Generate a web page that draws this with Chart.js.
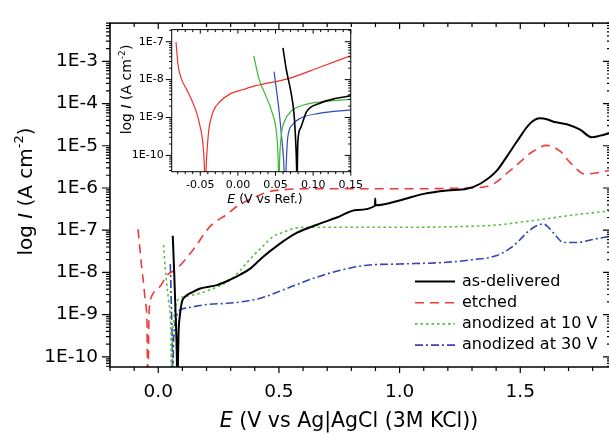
<!DOCTYPE html>
<html>
<head>
<meta charset="utf-8">
<script src="https://cdn.jsdelivr.net/npm/chart.js@4.4.0/dist/chart.umd.min.js"></script>
<style>
html, body { margin: 0; padding: 0; overflow: hidden; background: #fff; }
#wrap { position: relative; width: 609px; height: 434px; overflow: hidden; }
#main { position: absolute; left: 0; top: 0; }
#inset { position: absolute; left: 100px; top: 15px; }
</style>
</head>
<body>
<div id="wrap">
  <canvas id="main" width="611" height="434"></canvas>
  <canvas id="inset" width="270" height="195"></canvas>
</div>
<script>
// ---- main plot data: E (V vs Ag|AgCl) and log10 I (A cm-2) ----
const seriesNames = ['as-delivered', 'etched', 'anodized at 10 V', 'anodized at 30 V'];

const asDeliveredE = [0.060, 0.066, 0.072, 0.077, 0.079, 0.081, 0.084, 0.090, 0.098, 0.112, 0.140, 0.174, 0.243, 0.298, 0.340, 0.381, 0.430, 0.492, 0.575, 0.658, 0.740, 0.823, 0.898, 0.899, 0.900, 1.003, 1.100, 1.196, 1.279, 1.334, 1.403, 1.445, 1.486, 1.541, 1.582, 1.610, 1.638, 1.693, 1.748, 1.797, 1.831, 1.876];
const asDeliveredLogI = [-7.13, -8.00, -9.00, -10.00, -11.0, -10.3, -9.45, -9.00, -8.70, -8.57, -8.47, -8.38, -8.30, -8.17, -8.05, -7.91, -7.65, -7.37, -7.06, -6.87, -6.70, -6.52, -6.42, -6.25, -6.41, -6.29, -6.14, -6.06, -6.02, -5.90, -5.59, -5.25, -4.90, -4.47, -4.35, -4.37, -4.43, -4.49, -4.62, -4.80, -4.76, -4.69];

const etchedE = [-0.084, -0.075, -0.068, -0.060, -0.054, -0.047, -0.043, -0.039, -0.033, -0.026, -0.015, 0.008, 0.036, 0.077, 0.146, 0.215, 0.285, 0.330, 0.400, 0.450, 0.520, 0.600, 0.800, 1.000, 1.280, 1.375, 1.458, 1.554, 1.610, 1.665, 1.707, 1.769, 1.876];
const etchedLogI = [-6.98, -7.50, -7.91, -8.30, -8.68, -9.15, -11.0, -9.15, -8.68, -8.55, -8.45, -8.33, -8.07, -7.91, -7.45, -6.91, -6.62, -6.42, -6.22, -6.10, -6.04, -6.02, -6.02, -6.02, -6.00, -5.94, -5.59, -5.13, -4.99, -5.13, -5.40, -5.67, -5.58];

const anod10E = [0.022, 0.029, 0.043, 0.050, 0.053, 0.054, 0.058, 0.063, 0.070, 0.091, 0.133, 0.180, 0.229, 0.298, 0.340, 0.381, 0.430, 0.478, 0.520, 0.547, 0.616, 0.800, 1.000, 1.279, 1.417, 1.500, 1.582, 1.720, 1.876];
const anod10LogI = [-7.35, -7.91, -8.68, -9.07, -9.80, -11.0, -9.60, -9.20, -8.84, -8.61, -8.55, -8.48, -8.38, -8.18, -7.95, -7.68, -7.40, -7.14, -7.05, -6.98, -6.93, -6.93, -6.93, -6.91, -6.87, -6.81, -6.75, -6.64, -6.54];

const anod30E = [0.050, 0.053, 0.056, 0.059, 0.0605, 0.062, 0.066, 0.075, 0.084, 0.119, 0.202, 0.312, 0.423, 0.533, 0.643, 0.754, 0.864, 1.000, 1.196, 1.300, 1.403, 1.460, 1.500, 1.527, 1.560, 1.596, 1.620, 1.650, 1.679, 1.734, 1.800, 1.876];
const anod30LogI = [-7.80, -8.50, -9.20, -10.0, -11.0, -10.0, -9.40, -9.10, -8.92, -8.84, -8.76, -8.72, -8.61, -8.38, -8.14, -7.95, -7.83, -7.80, -7.76, -7.70, -7.60, -7.42, -7.22, -7.06, -6.92, -6.85, -6.95, -7.15, -7.29, -7.29, -7.22, -7.14];

// ---- inset data: E (V vs Ref.) ----
const insetAsDeliveredE = [0.0599, 0.0642, 0.0705, 0.0747, 0.0768, 0.0780, 0.0785, 0.0790, 0.0797, 0.0832, 0.0915, 0.108, 0.129, 0.150];
const insetAsDeliveredLogI = [-7.16, -7.72, -8.33, -8.93, -9.63, -10.3, -11.0, -10.3, -9.63, -9.28, -8.84, -8.63, -8.50, -8.43];
const insetEtchedE = [-0.0823, -0.0794, -0.0751, -0.0687, -0.0603, -0.054, -0.0498, -0.0468, -0.0447, -0.0434, -0.0420, -0.0401, -0.0384, -0.0329, -0.0244, -0.0097, 0.0072, 0.024, 0.066, 0.108, 0.150];
const insetEtchedLogI = [-7.01, -7.63, -7.98, -8.24, -8.59, -8.93, -9.28, -9.63, -10.2, -11.0, -10.2, -9.63, -9.28, -8.84, -8.59, -8.37, -8.26, -8.16, -7.98, -7.68, -7.37];
const insetAnod10E = [0.0211, 0.028, 0.0367, 0.045, 0.0515, 0.0535, 0.0545, 0.0555, 0.0578, 0.062, 0.0705, 0.0873, 0.108, 0.150];
const insetAnod10LogI = [-7.37, -7.98, -8.41, -8.84, -9.45, -10.1, -11.0, -10.1, -9.45, -9.10, -8.84, -8.67, -8.59, -8.52];
const insetAnod30E = [0.0481, 0.0515, 0.0548, 0.0578, 0.0608, 0.0627, 0.0645, 0.0662, 0.0725, 0.0832, 0.108, 0.150];
const insetAnod30LogI = [-7.79, -8.31, -8.84, -9.45, -10.14, -11.0, -10.1, -9.54, -9.19, -9.02, -8.89, -8.80];

// ---- tick labels ----
const mainXTicks = [0.0, 0.5, 1.0, 1.5];
const mainYDecades = [-10, -9, -8, -7, -6, -5, -4, -3];
const insetXTicks = [-0.05, 0.00, 0.05, 0.10, 0.15];
const insetYDecades = [-10, -9, -8, -7];

const colors = ['#000000', '#ef3b3b', '#55c03c', '#3246b0'];
const insetColors = ['#000000', '#ef3030', '#3cb834', '#3048c0'];
const dashes = [[], [9, 6], [2.5, 3], [8, 3, 2, 3]];
const FONT = "'DejaVu Sans', sans-serif";

const pts = (e, l) => e.map((x, i) => ({ x: x, y: Math.pow(10, l[i]) }));

function near(a, list) {
    return list.some(v => Math.abs(v - a) < 1e-6);
}

// frame + major/minor ticks: left/bottom outward, top/right inward
const framePlugin = {
    id: 'frame',
    afterDatasetsDraw(chart, args, o) {
        const { ctx, chartArea: a, scales: { x, y } } = chart;
        ctx.save();
        ctx.strokeStyle = '#000';
        ctx.lineWidth = o.lw;
        ctx.strokeRect(a.left, a.top, a.right - a.left, a.bottom - a.top);
        ctx.lineWidth = o.tw;
        ctx.beginPath();
        for (let v = o.xFrom; v <= x.max + 1e-9; v += o.xStep) {
            const vv = Math.round(v * 1000) / 1000;
            if (vv < x.min) continue;
            const px = x.getPixelForValue(vv);
            const len = near(vv, o.xMajor) ? o.major : o.minor;
            ctx.moveTo(px, a.bottom); ctx.lineTo(px, a.bottom + len);
            ctx.moveTo(px, a.top); ctx.lineTo(px, a.top + len);
        }
        for (let d = -12; d <= -1; d++) {
            for (let k = 1; k <= 9; k++) {
                const v = k * Math.pow(10, d);
                if (v < y.min || v > y.max) continue;
                const py = y.getPixelForValue(v);
                const len = k === 1 ? o.major + 2 : o.minor;
                ctx.moveTo(a.left, py); ctx.lineTo(a.left - len, py);
                ctx.moveTo(a.right, py); ctx.lineTo(a.right - len, py);
            }
        }
        ctx.stroke();
        ctx.restore();
    }
};

// draws text pieces (italic / superscript) centred at (cx, cy)
function richText(ctx, parts, size, cx, cy, rot) {
    ctx.save();
    ctx.translate(cx, cy);
    if (rot) ctx.rotate(-Math.PI / 2);
    ctx.fillStyle = '#000';
    ctx.textBaseline = 'middle';
    ctx.textAlign = 'left';
    const fontOf = p => (p.it ? 'italic ' : '') + (p.sup ? size * 0.65 : size) + 'px ' + FONT;
    let w = 0;
    parts.forEach(p => { ctx.font = fontOf(p); w += ctx.measureText(p.t).width; });
    let xx = -w / 2;
    parts.forEach(p => {
        ctx.font = fontOf(p);
        ctx.fillText(p.t, xx, p.sup ? -size * 0.38 : 0);
        xx += ctx.measureText(p.t).width;
    });
    ctx.restore();
}

const labelsPlugin = {
    id: 'labels',
    afterDraw(chart, args, o) {
        const ctx = chart.ctx;
        richText(ctx, [{ t: 'E', it: true }, { t: o.xText }], o.xSize, o.xPos[0], o.xPos[1], false);
        richText(ctx, [{ t: 'log ' }, { t: 'I', it: true }, { t: ' (A cm' }, { t: '-2', sup: true }, { t: ')' }], o.ySize, o.yPos[0], o.yPos[1], true);
        if (!o.legend) return;
        ctx.save();
        chart.data.datasets.forEach((ds, i) => {
            const yy = o.legend.y + i * o.legend.dy;
            ctx.strokeStyle = ds.borderColor;
            ctx.lineWidth = ds.borderWidth;
            ctx.setLineDash(ds.borderDash || []);
            ctx.beginPath();
            ctx.moveTo(o.legend.x, yy); ctx.lineTo(o.legend.x + 40, yy);
            ctx.stroke();
            ctx.setLineDash([]);
            ctx.fillStyle = '#000';
            ctx.font = o.legend.size + 'px ' + FONT;
            ctx.textBaseline = 'middle';
            ctx.fillText(ds.label, o.legend.x + 47, yy);
        });
        ctx.restore();
    }
};

function makeDatasets(list, cols, width, dashed) {
    return list.map((d, i) => ({
        label: seriesNames[i],
        data: pts(d[0], d[1]),
        borderColor: cols[i],
        borderWidth: i === 0 ? width + 0.4 : width,
        borderDash: dashed ? dashes[i] : [],
        pointRadius: 0,
        fill: false,
        cubicInterpolationMode: 'monotone'
    }));
}

new Chart(document.getElementById('main'), {
    type: 'line',
    data: {
        datasets: makeDatasets([
            [asDeliveredE, asDeliveredLogI],
            [etchedE, etchedLogI],
            [anod10E, anod10LogI],
            [anod30E, anod30LogI]
        ], colors, 1.6, true)
    },
    options: {
        responsive: false,
        animation: false,
        layout: { padding: { top: 16, left: 0, right: 0, bottom: 0 } },
        plugins: {
            legend: { display: false },
            tooltip: { enabled: false },
            frame: { lw: 1.5, tw: 1.2, xFrom: -0.2, xStep: 0.1, xMajor: mainXTicks, major: 6, minor: 4 },
            labels: {
                xText: ' (V vs Ag|AgCl (3M KCl))', xSize: 20.5, xPos: [349, 422],
                ySize: 20, yPos: [27, 191.5],
                legend: { x: 415, y: 281.5, dy: 21.2, size: 16 }
            }
        },
        scales: {
            x: {
                type: 'linear', min: -0.2, max: 1.876,
                grid: { display: false, drawTicks: false },
                border: { display: false },
                afterBuildTicks: s => { s.ticks = mainXTicks.map(v => ({ value: v })); },
                afterFit: s => { s.height = 67; },
                ticks: { autoSkip: false, maxRotation: 0, padding: 14, color: '#000', font: { family: FONT, size: 18.5 }, callback: v => v.toFixed(1) }
            },
            y: {
                type: 'logarithmic', min: Math.pow(10, -10.24), max: Math.pow(10, -2.095),
                grid: { display: false, drawTicks: false },
                border: { display: false },
                afterBuildTicks: s => { s.ticks = mainYDecades.map(d => ({ value: Math.pow(10, d) })); },
                afterFit: s => { s.width = 110; },
                ticks: { autoSkip: false, padding: 12, color: '#000', font: { family: FONT, size: 18.5 }, callback: v => '1E' + Math.round(Math.log10(v)) }
            }
        }
    },
    plugins: [framePlugin, labelsPlugin]
});

new Chart(document.getElementById('inset'), {
    type: 'line',
    data: {
        datasets: makeDatasets([
            [insetAsDeliveredE, insetAsDeliveredLogI],
            [insetEtchedE, insetEtchedLogI],
            [insetAnod10E, insetAnod10LogI],
            [insetAnod30E, insetAnod30LogI]
        ], insetColors, 1.2, false)
    },
    options: {
        responsive: false,
        animation: false,
        layout: { padding: { top: 11.7, left: 0, right: 10.7, bottom: 0 } },
        plugins: {
            legend: { display: false },
            tooltip: { enabled: false },
            frame: { lw: 1, tw: 1, xFrom: -0.08, xStep: 0.01, xMajor: insetXTicks, major: 4, minor: 2.5 },
            labels: {
                xText: ' (V vs Ref.)', xSize: 12.5, xPos: [165, 185],
                ySize: 14, yPos: [27.5, 74.5]
            }
        },
        scales: {
            x: {
                type: 'linear', min: -0.088, max: 0.15,
                grid: { display: false, drawTicks: false },
                border: { display: false },
                afterBuildTicks: s => { s.ticks = insetXTicks.map(v => ({ value: v })); },
                afterFit: s => { s.height = 38.3; },
                ticks: { autoSkip: false, maxRotation: 0, padding: 7, color: '#000', font: { family: FONT, size: 11 }, callback: v => v.toFixed(2) }
            },
            y: {
                type: 'logarithmic', min: Math.pow(10, -10.43), max: Math.pow(10, -6.68),
                grid: { display: false, drawTicks: false },
                border: { display: false },
                afterBuildTicks: s => { s.ticks = insetYDecades.map(d => ({ value: Math.pow(10, d) })); },
                afterFit: s => { s.width = 71.7; },
                ticks: { autoSkip: false, padding: 8, color: '#000', font: { family: FONT, size: 11 }, callback: v => '1E' + Math.round(Math.log10(v)) }
            }
        }
    },
    plugins: [framePlugin, labelsPlugin]
});
</script>
</body>
</html>
